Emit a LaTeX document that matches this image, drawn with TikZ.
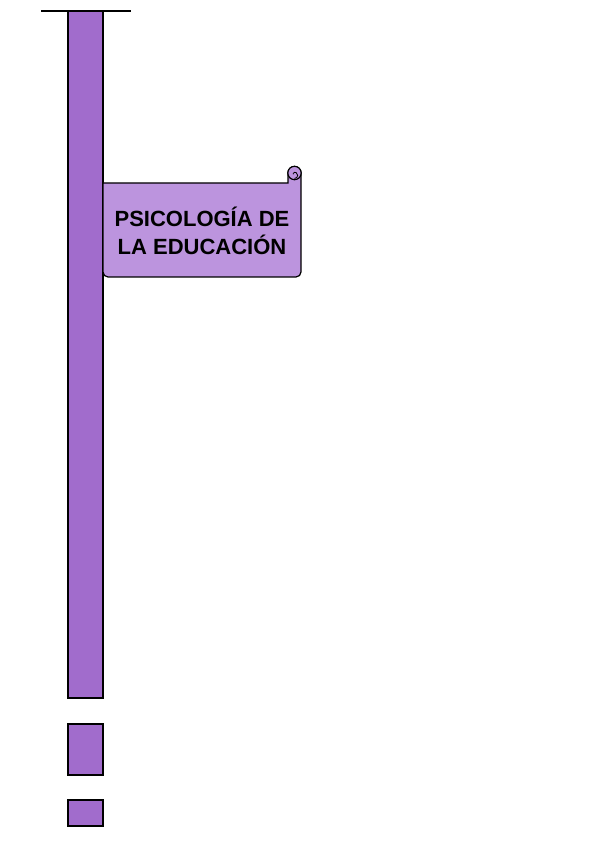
\documentclass[tikz,border=0pt]{standalone}
\usepackage{fontspec}
\setsansfont{Liberation Sans}
\usepackage{tikz}
\definecolor{barpurple}{RGB}{161, 108, 204}
\definecolor{bannerpurple}{RGB}{188, 148, 222}

\begin{document}
\begin{tikzpicture}[x=1pt, y=1pt, line width=1.2pt]
  \useasboundingbox (0, 0) rectangle (599, 848);

  % top line
  \draw[line width=1.6pt] (41, 837) -- (131, 837);

  % main bar
  \draw[fill=barpurple] (68, 150) rectangle (103, 837);

  % small boxes below
  \draw[fill=barpurple] (68, 73) rectangle (103, 124);
  \draw[fill=barpurple] (68, 22) rectangle (103, 48);

  % banner with curl
  \draw[fill=bannerpurple] (103, 665) -- (288, 665) -- (288, 675)
    arc[start angle=180, end angle=0, radius=6.5] -- (301, 577)
    [rounded corners=5] -- (301, 571) -- (103, 571) [sharp corners] -- cycle;
  \draw[fill=bannerpurple] (294.5, 675) circle[radius=6.7];
  \draw[line width=0.8pt] (294.5, 669.5) arc[start angle=-90, end angle=60, radius=3.2]
    arc[start angle=60, end angle=180, radius=2];

  \node[font=\sffamily\bfseries\fontsize{22}{28.5}\selectfont, align=center]
    (title) at (202, 617) {PSICOLOGÍA DE\\ LA EDUCACIÓN};

\end{tikzpicture}
\end{document}
